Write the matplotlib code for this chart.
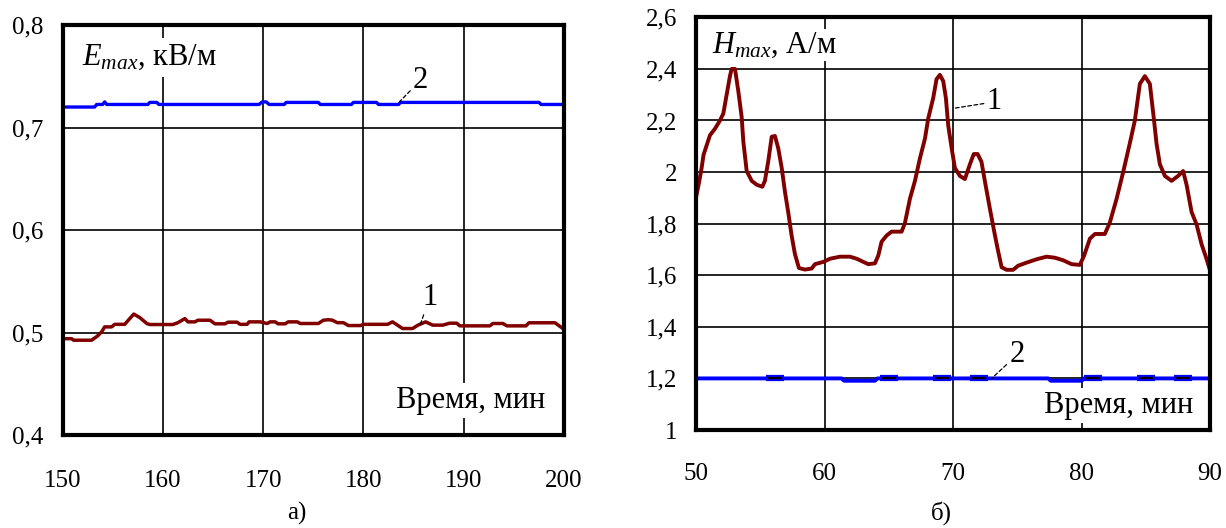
import matplotlib
matplotlib.use("Agg")
import matplotlib.pyplot as plt
from matplotlib.ticker import FuncFormatter, MultipleLocator

plt.rcParams['font.family'] = ['Liberation Serif', 'DejaVu Serif']
plt.rcParams['mathtext.fontset'] = 'custom'
plt.rcParams['mathtext.rm'] = 'Liberation Serif'
plt.rcParams['mathtext.it'] = 'Liberation Serif:italic'

# --- panel а): E_max, kV/m, time 150..200 min
e1_t = [150, 150.9, 151.1, 152.9, 153.5, 153.9, 154.2, 154.9, 155.2, 156.2, 157.1, 157.7,
        158.4, 158.7, 161.0, 161.5, 162.2, 162.5, 163.2, 163.5, 164.7, 165.2, 166.2, 166.5,
        167.4, 167.7, 168.4, 168.6, 169.7, 170.4, 170.7, 171.2, 171.5, 172.2, 172.5, 173.4,
        173.7, 175.5, 176.0, 176.5, 176.9, 177.4, 178.0, 178.5, 179.7, 180.0, 182.4, 182.9,
        183.9, 184.9, 185.4, 186.2, 186.9, 187.9, 188.6, 189.3, 189.6, 192.6, 192.9, 193.9,
        194.3, 196.2, 196.5, 199.1, 200]
e1_v = [0.494, 0.494, 0.4925, 0.4925, 0.4967, 0.5006, 0.5055, 0.5055, 0.508, 0.508, 0.518, 0.5146,
        0.5088, 0.5078, 0.5078, 0.5096, 0.5136, 0.5104, 0.5104, 0.512, 0.512, 0.5085, 0.5085, 0.5101,
        0.5101, 0.508, 0.508, 0.5104, 0.5104, 0.5088, 0.5104, 0.5104, 0.5085, 0.5085, 0.5104, 0.5104,
        0.5088, 0.5088, 0.512, 0.5125, 0.512, 0.5096, 0.5096, 0.5068, 0.5068, 0.508, 0.508, 0.5104,
        0.5039, 0.5039, 0.507, 0.5104, 0.5072, 0.5072, 0.5091, 0.5091, 0.5065, 0.5065, 0.5088, 0.5088,
        0.5065, 0.5065, 0.5095, 0.5095, 0.503]

e2_t = [150, 153.2, 153.4, 154.0, 154.2, 154.4, 158.5, 158.7, 159.4, 159.6, 169.6, 169.9, 170.3,
        170.6, 172.1, 172.3, 175.5, 175.7, 178.8, 179.0, 181.3, 181.5, 183.5, 183.7, 197.5, 197.7, 200]
e2_v = [0.720, 0.720, 0.7225, 0.7225, 0.725, 0.7225, 0.7225, 0.7245, 0.7245, 0.7225, 0.7225, 0.725,
        0.725, 0.7225, 0.7225, 0.7245, 0.7245, 0.7225, 0.7225, 0.7245, 0.7245, 0.7225, 0.7225, 0.7245,
        0.7245, 0.7225, 0.7225]

# --- panel б): H_max, A/m, time 50..90 min
h1_t = [50.0, 50.2, 50.4, 50.55, 50.8, 51.05, 51.44, 51.83, 52.09, 52.35, 52.61, 52.74, 53.0,
        53.26, 53.52, 53.65, 53.91, 54.3, 54.69, 55.13, 55.33, 55.59, 55.86, 56.11, 56.37, 56.64,
        56.89, 57.15, 57.41, 57.67, 57.98, 58.45, 58.97, 59.23, 59.9, 60.4, 61.18, 61.95, 62.48,
        62.99, 63.38, 63.9, 64.16, 64.42, 64.81, 65.2, 65.98, 66.24, 66.63, 67.02, 67.41, 67.8,
        68.05, 68.44, 68.7, 68.96, 69.22, 69.43, 69.61, 69.88, 70.13, 70.52, 70.91, 71.3, 71.6,
        71.9, 72.2, 72.47, 72.86, 73.25, 73.5, 73.77, 74.16, 74.67, 75.06, 75.72, 76.5, 77.27,
        77.92, 78.57, 79.22, 79.86, 80.18, 80.65, 81.04, 81.81, 82.2, 82.72, 83.24, 83.76, 84.15,
        84.54, 84.93, 85.32, 85.63, 85.84, 86.1, 86.49, 87.01, 87.52, 87.91, 88.18, 88.57, 88.96,
        89.35, 89.69, 90.0]
h1_v = [1.91, 1.96, 2.016, 2.067, 2.105, 2.143, 2.168, 2.2, 2.227, 2.3, 2.373, 2.4, 2.4,
        2.313, 2.213, 2.118, 2.004, 1.966, 1.951, 1.943, 1.966, 2.042, 2.137, 2.14, 2.092, 2.016,
        1.924, 1.843, 1.754, 1.682, 1.628, 1.622, 1.626, 1.643, 1.652, 1.664, 1.672, 1.672, 1.664,
        1.652, 1.643, 1.646, 1.676, 1.73, 1.754, 1.769, 1.769, 1.803, 1.897, 1.966, 2.054, 2.13,
        2.207, 2.287, 2.36, 2.377, 2.353, 2.287, 2.181, 2.092, 2.016, 1.985, 1.973, 2.03, 2.07,
        2.07, 2.04, 1.964, 1.857, 1.755, 1.693, 1.631, 1.621, 1.621, 1.637, 1.649, 1.662, 1.672,
        1.668, 1.658, 1.643, 1.64, 1.674, 1.742, 1.76, 1.76, 1.804, 1.895, 2.0, 2.112, 2.2,
        2.342, 2.372, 2.342, 2.207, 2.11, 2.03, 1.985, 1.966, 1.985, 2.004, 1.951, 1.845, 1.797,
        1.72, 1.67, 1.62]

h2_t = [50, 61.3, 61.5, 63.9, 64.1, 77.4, 77.6, 80.0, 80.2, 90]
h2_v = [1.2, 1.2, 1.191, 1.191, 1.2, 1.2, 1.191, 1.191, 1.2, 1.2]
h2_marks = [56.1, 65.0, 69.1, 72.0, 80.9, 85.0, 87.9]

RED = '#800000'
BLUE = '#0000ff'
TICK_FS = 18
LABEL_FS = 22


def comma(v, pos):
    return ('%g' % round(v, 3)).replace('.', ',')


def style(ax, xlim, ylim, xstep, ystep, xpad):
    ax.set_xlim(*xlim)
    ax.set_ylim(*ylim)
    ax.xaxis.set_major_locator(MultipleLocator(xstep))
    ax.yaxis.set_major_locator(MultipleLocator(ystep))
    ax.yaxis.set_major_formatter(FuncFormatter(comma))
    ax.grid(True, color='black', lw=1.2)
    ax.set_axisbelow(True)
    ax.tick_params(axis='both', length=0, labelsize=TICK_FS)
    ax.tick_params(axis='y', pad=14)
    ax.tick_params(axis='x', pad=xpad)
    for s in ax.spines.values():
        s.set_linewidth(3)
        s.set_zorder(5)


fig = plt.figure(figsize=(12.26, 5.28), dpi=100)

# panel а)
ax1 = fig.add_axes([0.0510, 0.1761, 0.4091, 0.7765])
style(ax1, (150, 200), (0.4, 0.8), 10, 0.1, 25)
ax1.plot(e2_t, e2_v, color=BLUE, lw=2.4, zorder=3)
ax1.plot(e1_t, e1_v, color=RED, lw=2.5, zorder=3)
ax1.text(151.9, 0.761, r'$E_{max}$, кВ/м', fontsize=LABEL_FS, ha='left', va='baseline', zorder=4,
         bbox=dict(fc='white', ec='none', boxstyle='square,pad=0.15'))
ax1.text(198.1, 0.4263, 'Время, мин', fontsize=LABEL_FS, ha='right', va='baseline', zorder=4,
         bbox=dict(fc='white', ec='none', boxstyle='square,pad=0.1'))
lead = dict(arrowstyle='-', ls=(0, (3, 2)), lw=0.9, color='black', shrinkA=0, shrinkB=0)
ax1.annotate('2', xy=(183.6, 0.7252), xytext=(185.7, 0.7463), fontsize=LABEL_FS,
             ha='center', va='center', arrowprops=lead, zorder=4)
ax1.annotate('1', xy=(185.6, 0.5059), xytext=(186.6, 0.5341), fontsize=LABEL_FS,
             ha='center', va='center', arrowprops=lead, zorder=4)

# panel б)
ax2 = fig.add_axes([0.5681, 0.1856, 0.4188, 0.7816])
style(ax2, (50, 90), (1.0, 2.6), 10, 0.2, 24)
ax2.plot(h2_t, h2_v, color=BLUE, lw=2.8, zorder=3)
ax2.plot(h2_marks, [1.202] * len(h2_marks), ls='none', marker='_', ms=13, mew=4.5, color=BLUE, zorder=3)
ax2.plot(h2_marks, [1.2] * len(h2_marks), ls='none', marker='_', ms=10, mew=1.6, color='black', zorder=3)
ax2.plot(h1_t, h1_v, color=RED, lw=2.8, zorder=3)
ax2.text(51.2, 2.463, r'$H_{max}$, А/м', fontsize=LABEL_FS, ha='left', va='baseline', zorder=2,
         bbox=dict(fc='white', ec='none', boxstyle='square,pad=0.05'))
ax2.text(88.67, 1.0674, 'Время, мин', fontsize=LABEL_FS, ha='right', va='baseline', zorder=4,
         bbox=dict(fc='white', ec='none', boxstyle='square,pad=0.1'))
ax2.annotate('1', xy=(70.0, 2.247), xytext=(72.6, 2.273), fontsize=LABEL_FS,
             ha='left', va='center', arrowprops=dict(lead, relpos=(0, 0.45)), zorder=4)
ax2.annotate('2', xy=(73.0, 1.2), xytext=(74.96, 1.291), fontsize=LABEL_FS,
             ha='center', va='center', arrowprops=lead, zorder=4)

fig.text(296.6 / 1226, 1 - 513 / 528, 'а)', fontsize=TICK_FS, ha='center', va='center')
fig.text(941 / 1226, 1 - 513 / 528, 'б)', fontsize=TICK_FS, ha='center', va='center')

fig.savefig('out.png', dpi=100, facecolor='white')
